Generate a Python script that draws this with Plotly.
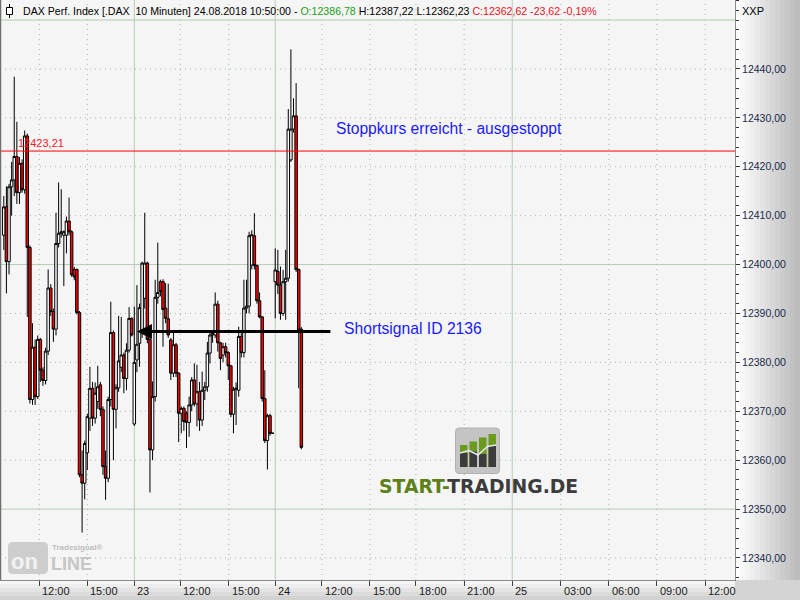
import plotly.graph_objects as go

# ---------------- data ----------------
bar_index = list(range(115))
open_ = [12406.0, 12411.8, 12400.6, 12415.9, 12417.3, 12422.1, 12414.7, 12420.7, 12415.3, 12426.3,
         12403.5, 12372.4, 12383.1, 12373.0, 12384.7, 12378.4, 12376.3, 12382.3, 12395.2, 12390.4,
         12386.8, 12404.3, 12406.4, 12406.0, 12406.0, 12408.9, 12406.7, 12399.0, 12399.0, 12390.2,
         12357.0, 12355.3, 12361.5, 12368.6, 12374.7, 12368.6, 12372.0, 12375.4, 12370.4, 12358.7,
         12356.3, 12372.4, 12386.1, 12370.4, 12374.8, 12379.0, 12381.5, 12376.7, 12382.5, 12389.0,
         12367.4, 12380.5, 12383.9, 12386.1, 12393.1, 12400.3, 12384.7, 12362.1, 12373.0, 12393.3,
         12396.5, 12396.5, 12391.1, 12388.9, 12384.6, 12377.8, 12383.6, 12377.8, 12369.6, 12370.6,
         12369.6, 12367.7, 12371.3, 12376.4, 12371.5, 12374.0, 12368.2, 12374.3, 12375.0, 12381.9,
         12385.6, 12385.6, 12391.9, 12384.0, 12381.5, 12383.2, 12382.0, 12379.3, 12369.4, 12374.5,
         12374.3, 12385.3, 12382.0, 12391.1, 12391.5, 12399.9, 12405.9, 12399.8, 12392.6, 12389.3,
         12372.6, 12364.0, 12369.1, 12365.5, 12396.5, 12398.6, 12395.8, 12390.0, 12396.5, 12397.2,
         12421.4, 12427.7, 12430.4, 12399.0, 12386.78]
high = [12414.0, 12416.0, 12416.5, 12421.0, 12438.4, 12429.2, 12422.0, 12421.5, 12427.4, 12426.8,
        12403.9, 12388.0, 12384.7, 12385.5, 12385.0, 12379.0, 12383.0, 12399.0, 12396.0, 12391.0,
        12410.6, 12416.8, 12415.4, 12407.0, 12409.8, 12413.7, 12407.0, 12399.5, 12399.2, 12390.5,
        12362.0, 12364.0, 12369.5, 12379.1, 12376.0, 12375.9, 12379.3, 12376.0, 12371.0, 12362.0,
        12373.0, 12392.4, 12386.5, 12375.5, 12389.5, 12389.3, 12382.0, 12383.9, 12391.3, 12389.2,
        12391.4, 12395.8, 12392.0, 12400.6, 12410.6, 12400.6, 12385.0, 12376.1, 12396.9, 12404.5,
        12396.9, 12397.0, 12396.2, 12396.1, 12385.0, 12386.1, 12384.0, 12378.0, 12371.0, 12371.0,
        12370.0, 12373.0, 12377.0, 12379.8, 12379.5, 12376.0, 12378.1, 12376.0, 12384.2, 12386.0,
        12386.3, 12394.3, 12392.6, 12384.2, 12384.0, 12384.0, 12382.3, 12379.5, 12375.0, 12375.9,
        12387.3, 12386.0, 12396.9, 12396.9, 12406.7, 12407.0, 12410.5, 12400.0, 12394.3, 12389.5,
        12378.4, 12369.5, 12369.5, 12365.6, 12403.3, 12403.0, 12399.6, 12398.9, 12403.0, 12431.8,
        12444.0, 12434.0, 12437.1, 12399.2, 12387.22]
low = [12403.0, 12394.1, 12398.0, 12410.0, 12414.0, 12412.4, 12412.4, 12414.7, 12414.5, 12389.3,
       12371.6, 12371.3, 12371.3, 12372.5, 12376.0, 12375.2, 12375.5, 12381.5, 12389.5, 12384.2,
       12385.5, 12403.5, 12405.5, 12395.6, 12402.3, 12406.0, 12397.5, 12396.8, 12389.8, 12356.5,
       12345.2, 12352.0, 12358.0, 12366.0, 12367.0, 12367.5, 12370.5, 12369.0, 12357.0, 12351.9,
       12355.5, 12371.0, 12360.0, 12366.5, 12374.0, 12378.0, 12373.7, 12374.3, 12382.0, 12385.3,
       12367.0, 12378.0, 12379.1, 12385.0, 12391.0, 12383.9, 12353.4, 12360.0, 12372.0, 12392.0,
       12393.5, 12383.2, 12388.0, 12385.0, 12376.4, 12377.0, 12377.0, 12363.7, 12365.5, 12366.0,
       12362.5, 12364.8, 12370.0, 12371.0, 12366.9, 12366.0, 12367.0, 12372.3, 12374.0, 12379.8,
       12384.0, 12385.0, 12382.2, 12378.4, 12380.0, 12381.0, 12376.4, 12368.8, 12365.5, 12367.2,
       12373.0, 12381.0, 12381.0, 12390.0, 12390.0, 12399.0, 12399.0, 12392.0, 12389.0, 12372.0,
       12363.5, 12358.1, 12365.0, 12365.4, 12389.0, 12394.0, 12388.7, 12389.5, 12388.7, 12396.5,
       12421.0, 12427.0, 12398.5, 12374.7, 12362.23]
close = [12411.8, 12400.6, 12415.9, 12417.3, 12422.1, 12414.7, 12420.7, 12415.3, 12426.3, 12403.5,
         12372.4, 12383.1, 12373.0, 12384.7, 12378.4, 12376.3, 12382.3, 12395.2, 12390.4, 12386.8,
         12404.3, 12406.4, 12406.7, 12406.7, 12408.9, 12406.7, 12397.9, 12397.5, 12390.2, 12357.0,
         12355.3, 12363.4, 12368.9, 12374.7, 12368.6, 12373.7, 12375.0, 12370.4, 12358.7, 12356.3,
         12372.4, 12386.1, 12370.4, 12374.8, 12380.3, 12381.5, 12376.7, 12382.5, 12389.0, 12385.6,
         12380.0, 12383.7, 12391.2, 12400.3, 12400.3, 12384.7, 12362.1, 12373.0, 12393.3, 12394.3,
         12394.5, 12390.8, 12389.0, 12385.6, 12377.8, 12383.6, 12377.8, 12369.6, 12370.6, 12367.9,
         12367.7, 12371.3, 12376.4, 12371.5, 12374.0, 12368.2, 12374.3, 12375.0, 12381.9, 12385.6,
         12385.9, 12391.9, 12384.0, 12380.8, 12383.2, 12382.0, 12379.3, 12369.4, 12374.5, 12374.7,
         12385.3, 12382.0, 12391.1, 12391.5, 12405.9, 12406.1, 12399.8, 12392.6, 12389.3, 12372.6,
         12364.0, 12369.1, 12365.5, 12365.5, 12398.9, 12395.8, 12390.0, 12396.5, 12397.2, 12427.7,
         12427.7, 12430.4, 12399.0, 12386.6, 12362.62]

x_tick_positions = [13.6, 32.0, 50, 67.6, 86.2, 104, 121.9, 140.3, 157.9, 176.4, 194.8, 213.4, 231.8, 250.2, 268.7]
x_tick_labels = ["12:00", "15:00", "23", "12:00", "15:00", "24", "12:00", "15:00",
                 "18:00", "21:00", "25", "03:00", "06:00", "09:00", "12:00"]
day_labels = ["23", "24", "25"]
y_tick_values = [12340, 12350, 12360, 12370, 12380, 12390, 12400, 12410, 12420, 12430, 12440]
y_grid_values = y_tick_values + [12450]

stop_level = 12423.21
stop_label = "12423,21"
short_level = 12386.3
short_start_bar = 51
short_end_bar = 125.7
change_text = "-23,62 -0,19%"
header_prefix = "DAX Perf. Index [.DAX\u00a0\u00a010 Minuten] 24.08.2018 10:50:00 - "

# ---------------- geometry ----------------
W, H = 800, 600
PW, PH = 735, 580
X_RANGE = [-1.456, 280.15]
Y_RANGE = [12335.5, 12454.1]


def fx(p):  # pixel x -> paper x
    return p / PW


def fy(p):  # pixel y -> paper y
    return (PH - p) / PH


def fmt(v):
    return f"{v:.2f}".replace(".", ",")


fig = go.Figure()
fig.add_trace(go.Candlestick(
    x=bar_index, open=open_, high=high, low=low, close=close,
    increasing=dict(fillcolor="#ffffff", line=dict(color="#000000", width=1)),
    decreasing=dict(fillcolor="#ff0000", line=dict(color="#000000", width=1)),
    whiskerwidth=0, hoverinfo="skip", showlegend=False,
))

shapes = []
# margin gradients (right axis area, bottom axis area)
n = 13
for k in range(n):
    g = int(255 - (255 - 188) * k / (n - 1))
    shapes.append(dict(type="rect", xref="paper", yref="paper", layer="below",
                       x0=fx(PW + k * 5), x1=fx(PW + (k + 1) * 5 + 0.5), y0=fy(PH), y1=fy(0),
                       fillcolor=f"rgb({g},{g},{g})", line=dict(width=0)))
for k in range(5):
    g = int(246 - 9 * k)
    shapes.append(dict(type="rect", xref="paper", yref="paper", layer="below",
                       x0=0, x1=1, y0=fy(PH + k * 4 + 4.5), y1=fy(PH + k * 4),
                       fillcolor=f"rgb({g},{g},{g})", line=dict(width=0)))
shapes.append(dict(type="rect", xref="paper", yref="paper", layer="below",
                   x0=1, x1=fx(W + 2), y0=fy(H + 2), y1=fy(PH),
                   fillcolor="#d4d4d4", line=dict(width=0)))

# grid lines
for v in y_grid_values:
    solid = (v % 50 == 0)
    shapes.append(dict(type="line", xref="paper", yref="y", layer="below",
                       x0=0, x1=1, y0=v, y1=v,
                       line=dict(color="#b6cbb6" if solid else "#a3bba3", width=1,
                                 dash="solid" if solid else "1px,4px")))
for pos, lab in zip(x_tick_positions, x_tick_labels):
    solid = lab in day_labels
    shapes.append(dict(type="line", xref="x", yref="paper", layer="below",
                       x0=pos, x1=pos, y0=0, y1=1,
                       line=dict(color="#b6cbb6" if solid else "#a3bba3", width=1,
                                 dash="solid" if solid else "1px,4px")))

# stop level line
shapes.append(dict(type="line", xref="paper", yref="y", layer="above",
                   x0=0, x1=1, y0=stop_level, y1=stop_level,
                   line=dict(color="#ff0000", width=1)))

# borders
shapes.append(dict(type="line", xref="paper", yref="paper", layer="above",
                   x0=fx(0.5), x1=fx(0.5), y0=0, y1=1, line=dict(color="#707070", width=1.5)))

# header candle icon
shapes.append(dict(type="line", xref="paper", yref="paper", layer="above",
                   x0=fx(9.5), x1=fx(9.5), y0=fy(4), y1=fy(18), line=dict(color="#000", width=1)))
shapes.append(dict(type="rect", xref="paper", yref="paper", layer="above",
                   x0=fx(6.5), x1=fx(12.5), y0=fy(14.5), y1=fy(7.5),
                   fillcolor="#ffffff", line=dict(color="#000", width=1)))

# START-TRADING icon
shapes.append(dict(type="path", xref="paper", yref="paper", layer="below",
                   path=(f"M {fx(459)},{fy(428)} L {fx(496)},{fy(428)} Q {fx(499.5)},{fy(428)} {fx(499.5)},{fy(431.5)} "
                         f"L {fx(499.5)},{fy(470)} Q {fx(499.5)},{fy(473.5)} {fx(496)},{fy(473.5)} "
                         f"L {fx(459)},{fy(473.5)} Q {fx(455.5)},{fy(473.5)} {fx(455.5)},{fy(470)} "
                         f"L {fx(455.5)},{fy(431.5)} Q {fx(455.5)},{fy(428)} {fx(459)},{fy(428)} Z"),
                   fillcolor="#c4c4c4", line=dict(color="#b0b0b0", width=1)))
for (x0, x1, gt, dt) in [(460, 467.5, 445, 453), (469.5, 477, 441.5, 451.5),
                         (479, 486.5, 437.5, 454), (488.5, 496, 434, 446)]:
    shapes.append(dict(type="rect", xref="paper", yref="paper", layer="below",
                       x0=fx(x0), x1=fx(x1), y0=fy(467), y1=fy(gt),
                       fillcolor="#6b9a1e", line=dict(width=0)))
    shapes.append(dict(type="rect", xref="paper", yref="paper", layer="below",
                       x0=fx(x0), x1=fx(x1), y0=fy(467), y1=fy(dt),
                       fillcolor="#3b3b3b", line=dict(width=0)))
shapes.append(dict(type="path", xref="paper", yref="paper", layer="below",
                   path=(f"M {fx(460)},{fy(453)} L {fx(469)},{fy(450.5)} L {fx(478)},{fy(455)} "
                         f"L {fx(487.5)},{fy(446.5)} L {fx(496)},{fy(445)}"),
                   line=dict(color="#e8e8e8", width=1.5)))

# Tradesignal online logo
shapes.append(dict(type="path", xref="paper", yref="paper", layer="below",
                   path=(f"M {fx(13)},{fy(542)} L {fx(43)},{fy(542)} Q {fx(48)},{fy(542)} {fx(48)},{fy(547)} "
                         f"L {fx(48)},{fy(569)} Q {fx(48)},{fy(574)} {fx(43)},{fy(574)} "
                         f"L {fx(13)},{fy(574)} Q {fx(8)},{fy(574)} {fx(8)},{fy(569)} "
                         f"L {fx(8)},{fy(547)} Q {fx(8)},{fy(542)} {fx(13)},{fy(542)} Z"),
                   fillcolor="#cdcdcd", line=dict(width=0)))

annotations = []
base_font = "Liberation Sans, Arial, sans-serif"
o, h, l, c = open_[-1], high[-1], low[-1], close[-1]
header = (header_prefix +
          f"<span style='color:#1aa01a'>O:{fmt(o)}</span> H:{fmt(h)} L:{fmt(l)} "
          f"<span style='color:#e8141c'>C:{fmt(c)} {change_text}</span>")
annotations.append(dict(xref="paper", yref="paper", x=fx(21), y=fy(11), xanchor="left", yanchor="middle",
                        text=header, showarrow=False, font=dict(family=base_font, size=10.6, color="#000000")))
annotations.append(dict(xref="paper", yref="paper", x=fx(740), y=fy(11), xanchor="left", yanchor="middle",
                        text="XXP", showarrow=False, font=dict(family=base_font, size=11, color="#000000")))
annotations.append(dict(xref="paper", yref="y", x=fx(16), y=stop_level, xanchor="left", yanchor="bottom",
                        yshift=0, text=stop_label, showarrow=False,
                        font=dict(family=base_font, size=11, color="#f0202a")))
annotations.append(dict(xref="paper", yref="paper", x=fx(334), y=fy(128), xanchor="left", yanchor="middle",
                        text="Stoppkurs erreicht - ausgestoppt", showarrow=False,
                        font=dict(family=base_font, size=15.6, color="#1a1aff")))
annotations.append(dict(xref="paper", yref="paper", x=fx(342), y=fy(328), xanchor="left", yanchor="middle",
                        text="Shortsignal ID 2136", showarrow=False,
                        font=dict(family=base_font, size=15.7, color="#1a1aff")))
# short signal arrow
annotations.append(dict(x=short_start_bar, y=short_level, ax=short_end_bar, ay=short_level,
                        xref="x", yref="y", axref="x", ayref="y", text="", showarrow=True,
                        arrowhead=2, arrowsize=1, arrowwidth=3, arrowcolor="#000000"))
# START-TRADING.DE
annotations.append(dict(xref="paper", yref="paper", x=fx(377), y=fy(486), xanchor="left", yanchor="middle",
                        text="<b><span style='color:#5d8019'>START-</span>TRADING.DE</b>", showarrow=False,
                        font=dict(family="DejaVu Sans, sans-serif", size=18.8, color="#3c3c3c")))
# Tradesignal online
annotations.append(dict(xref="paper", yref="paper", x=fx(50), y=fy(547), xanchor="left", yanchor="middle",
                        text="<b>Tradesignal\u00ae</b>", showarrow=False,
                        font=dict(family=base_font, size=8, color="#bdbdbd")))
annotations.append(dict(xref="paper", yref="paper", x=fx(9), y=fy(561), xanchor="left", yanchor="middle",
                        text="<b>on</b>", showarrow=False,
                        font=dict(family=base_font, size=22, color="#f2f2f2")))
annotations.append(dict(xref="paper", yref="paper", x=fx(49), y=fy(564), xanchor="left", yanchor="middle",
                        text="<b>LINE</b>", showarrow=False,
                        font=dict(family=base_font, size=18, color="#c6c6c6")))
# x tick labels (left aligned at the tick, as in the reference)
for pos, lab in zip(x_tick_positions, x_tick_labels):
    annotations.append(dict(x=pos, y=fy(591), xref="x", yref="paper", xanchor="left", yanchor="middle",
                            xshift=1, text=lab, showarrow=False,
                            font=dict(family=base_font, size=11, color="#1a1a1a")))

fig.update_layout(
    width=W, height=H,
    margin=dict(l=0, r=W - PW, t=0, b=H - PH, pad=0),
    paper_bgcolor="#ffffff", plot_bgcolor="#f5f5f5",
    separators=",.",
    boxgap=0.05, boxgroupgap=0,
    shapes=shapes, annotations=annotations,
    showlegend=False,
    xaxis=dict(range=X_RANGE, rangeslider=dict(visible=False), showgrid=False, zeroline=False,
               tickvals=x_tick_positions, ticktext=["" for _ in x_tick_positions],
               ticks="outside", ticklen=5, tickcolor="#404040", tickwidth=1,
               showline=True, linecolor="#8a8a8a", linewidth=1, fixedrange=True),
    yaxis=dict(range=Y_RANGE, side="right", showgrid=False, zeroline=False,
               tickvals=y_tick_values, tickformat=".2f",
               ticks="outside", ticklen=4, tickcolor="#303030", tickwidth=1,
               minor=dict(dtick=2, tick0=12340, ticks="outside", ticklen=3, tickcolor="#303030", showgrid=False),
               tickfont=dict(family=base_font, size=10.5, color="#1b2a4a"),
               showline=True, linecolor="#8a8a8a", linewidth=1, fixedrange=True),
)

fig.write_html("out.html", config={"displayModeBar": False},
               post_script="document.body.style.margin='0px';document.body.style.overflow='hidden';")
